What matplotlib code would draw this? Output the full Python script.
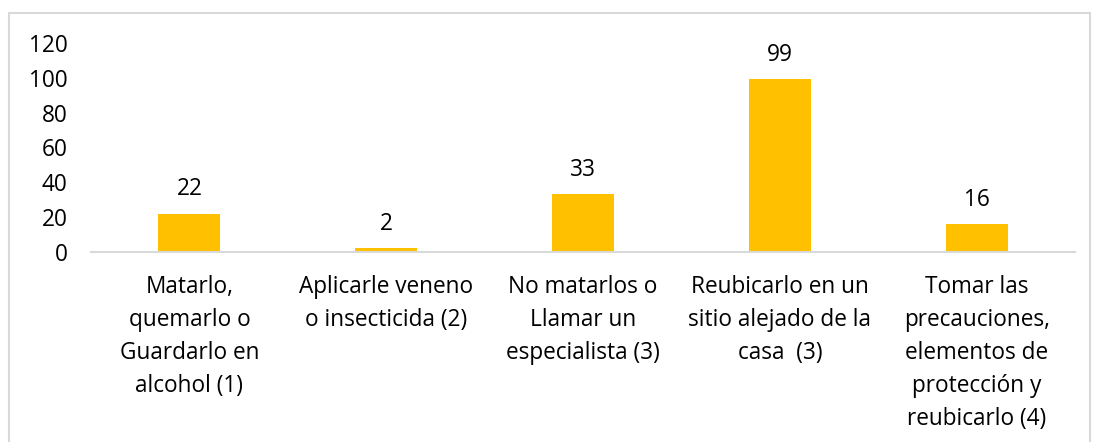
import matplotlib.pyplot as plt
from matplotlib.patches import Rectangle

plt.rcParams['font.family'] = ['Open Sans', 'DejaVu Sans']

# Data
categories = [
    "Matarlo,\nquemarlo o\nGuardarlo en\nalcohol (1)",
    "Aplicarle veneno\no insecticida (2)",
    "No matarlos o\nLlamar un\nespecialista (3)",
    "Reubicarlo en un\nsitio alejado de la\ncasa  (3)",
    "Tomar las\nprecauciones,\nelementos de\nprotección y\nreubicarlo (4)",
]
values = [22, 2, 33, 99, 16]
yticks = [0, 20, 40, 60, 80, 100, 120]

FS = 16.3

fig = plt.figure(figsize=(10.96, 4.42), dpi=100)
ax = fig.add_axes([0.083, 0.430, 0.898, 0.473])

x = range(len(values))
bars = ax.bar(x, values, width=0.315, color="#FFC000")

# value labels above bars
for xi, v in zip(x, values):
    ax.text(xi, v + 7, str(v), ha="center", va="bottom", fontsize=FS, color="#000000")

ax.set_xlim(-0.5, len(values) - 0.5)
ax.set_ylim(0, 120)
ax.set_yticks(yticks)
ax.set_yticklabels([str(t) for t in yticks], fontsize=FS)
ax.tick_params(axis="y", length=0, pad=17)
ax.set_xticks([])

for s in ["top", "right", "left"]:
    ax.spines[s].set_visible(False)
ax.spines["bottom"].set_color("#D9D9D9")
ax.spines["bottom"].set_linewidth(1.5)

# category labels under the axis
for xi, lab in zip(x, categories):
    ax.text(xi, -13, lab, ha="center", va="top", fontsize=FS, linespacing=1.5,
            transform=ax.transData, clip_on=False)

# outer chart border
fig.patches.append(Rectangle((9 / 1096, -0.02), 1081 / 1096, 1 - 13 / 442 + 0.02,
                             transform=fig.transFigure, fill=False,
                             edgecolor="#D9D9D9", linewidth=1.5))

fig.savefig("out.png", dpi=100)
